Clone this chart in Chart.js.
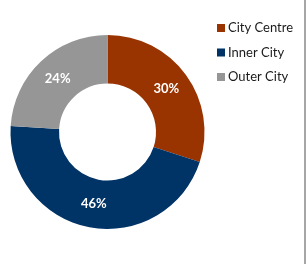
<!DOCTYPE html>
<html>
<head>
<meta charset="utf-8">
<script src="https://cdn.jsdelivr.net/npm/chart.js@4/dist/chart.umd.min.js"></script>
<style>
  html, body { margin: 0; padding: 0; background: #fff; }
  #wrap { width: 304px; height: 264px; border-right: 2px solid #a6a6a6; position: relative; }
</style>
</head>
<body>
<div id="wrap"><canvas id="donut" width="304" height="264"></canvas></div>
<script>
// chart data
const categories = ['City Centre', 'Inner City', 'Outer City'];
const shares = [30, 46, 24];
const sliceColors = ['#993300', '#003366', '#969696'];

// white % labels in the middle of each ring slice
const sliceLabels = {
    id: 'sliceLabels',
    afterDatasetsDraw(chart) {
        const ctx = chart.ctx;
        const meta = chart.getDatasetMeta(0);
        ctx.save();
        ctx.fillStyle = '#ffffff';
        ctx.font = 'bold 13px Lato, "Open Sans", sans-serif';
        ctx.textAlign = 'center';
        ctx.textBaseline = 'middle';
        meta.data.forEach((arc, i) => {
            const p = arc.tooltipPosition();
            ctx.fillText(shares[i] + '%', p.x, p.y);
        });
        ctx.restore();
    }
};

// legend to the right of the ring, Excel style
const sideLegend = {
    id: 'sideLegend',
    afterDraw(chart) {
        const ctx = chart.ctx;
        ctx.save();
        ctx.font = '13px Lato, "Open Sans", sans-serif';
        ctx.textBaseline = 'middle';
        categories.forEach((name, i) => {
            const y = 28 + i * 24.5;
            ctx.fillStyle = sliceColors[i];
            ctx.fillRect(217, y - 4, 8, 8);
            ctx.fillStyle = '#1a1a1a';
            ctx.fillText(name, 228, y);
        });
        ctx.restore();
    }
};

new Chart(document.getElementById('donut'), {
    type: 'doughnut',
    data: {
        labels: categories,
        datasets: [{
            data: shares,
            backgroundColor: sliceColors,
            borderWidth: 0
        }]
    },
    options: {
        responsive: false,
        animation: false,
        cutout: '50%',
        layout: { padding: { left: 10.5, right: 99.5, top: 35, bottom: 35 } },
        plugins: {
            legend: { display: false },
            tooltip: { enabled: false }
        }
    },
    plugins: [sliceLabels, sideLegend]
});
</script>
</body>
</html>
